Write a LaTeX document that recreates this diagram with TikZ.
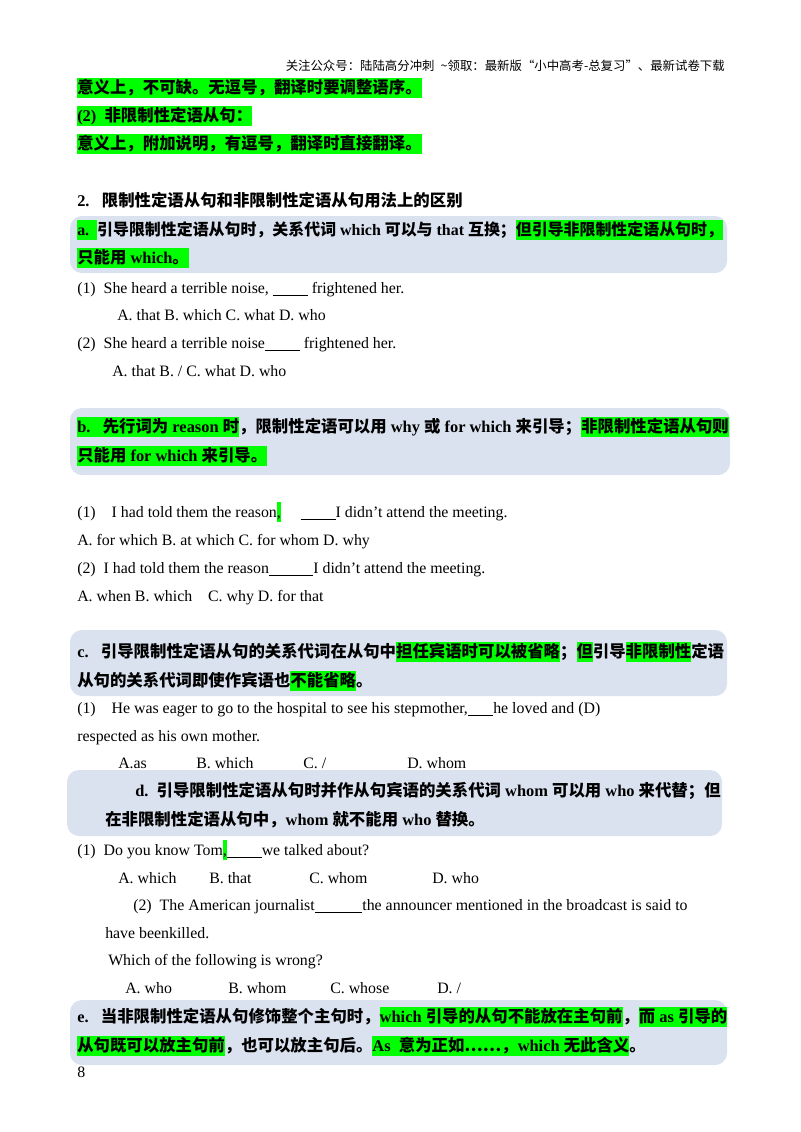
\documentclass[tikz,border=0pt]{standalone}
\usepackage{fontspec}
\setmainfont{Liberation Serif}
\newfontfamily\cjk{Noto Sans CJK SC}
\definecolor{hlg}{RGB}{0,255,0}
\definecolor{boxbg}{RGB}{218,225,239}
\newcommand\Z[1]{{\cjk #1}}
\newcommand\hl[1]{{\setlength\fboxsep{0pt}\colorbox{hlg}{\rule[-4pt]{0pt}{15.5pt}#1}}}
\tikzset{
  txt/.style={anchor=base west,inner sep=0pt,font=\fontsize{11.9}{13}\selectfont},
  btxt/.style={txt,font=\fontsize{12.3}{13}\selectfont\bfseries},
  panel/.style={fill=boxbg,rounded corners=9pt,draw=none}
}
\begin{document}
\begin{tikzpicture}[x=0.75pt,y=-0.75pt]
\useasboundingbox (0,0) rectangle (800,1132);
\fill[white] (0,0) rectangle (800,1132);
\node[anchor=base east,inner sep=0pt,font=\fontsize{9.3}{10}\selectfont\cjk] (hd) at (725,70) {关注公众号：陆陆高分冲刺\enspace \~{}领取：最新版“小中高考-总复习”、最新试卷下载};
\node[btxt] (l1) at (77,93) {\hl{\Z{意义上，不可缺。无逗号，翻译时要调整语序。}}};
\node[btxt] (l2) at (77,121) {\hl{(2)\ \ \Z{非限制性定语从句：}}};
\node[btxt] (l3) at (77,149) {\hl{\Z{意义上，附加说明，有逗号，翻译时直接翻译。}}};
\node[btxt] (s2) at (77,206) {2.\ \ \ \Z{限制性定语从句和非限制性定语从句用法上的区别}};
% box a
\path[panel] (70,216) rectangle (727,273);
\node[btxt,font=\fontsize{11.95}{13}\selectfont\bfseries] (a1) at (77,235) {\hl{a.\ \ }\Z{引导限制性定语从句时，关系代词} which \Z{可以与} that \Z{互换；}\hl{\Z{但引导非限制性定语从句时，}}};
\node[btxt] (a2) at (77,263) {\hl{\Z{只能用} which\Z{。}}};
\node[txt] (q1) at (77,293) {(1)\ \ She heard a terrible noise, \underline{\hspace{2.2em}} frightened her.};
\node[txt] (q1o) at (117,320) {A. that B. which C. what D. who};
\node[txt] (q2) at (77,348) {(2)\ \ She heard a terrible noise\underline{\hspace{2.2em}} frightened her.};
\node[txt] (q2o) at (112,376) {A. that B. / C. what D. who};
% box b
\path[panel] (70,408) rectangle (730,475);
\node[btxt] (b1) at (77,432) {\hl{b.\ \ \ \Z{先行词为} reason \Z{时}}\Z{，限制性定语可以用} why \Z{或} for which \Z{来引导；}\hl{\Z{非限制性定语从句则}}};
\node[btxt] (b2) at (77,461) {\hl{\Z{只能用} for which \Z{来引导。}}};
\node[txt] (r1) at (77,517) {(1)\ \ \ \ I had told them the reason\hl{,}\ \ \ \ \ \underline{\hspace{2.2em}}I didn’t attend the meeting.};
\node[txt] (r1o) at (77,545) {A. for which B. at which C. for whom D. why};
\node[txt] (r2) at (77,573) {(2)\ \ I had told them the reason\underline{\hspace{2.8em}}I didn’t attend the meeting.};
\node[txt] (r2o) at (77,601) {A. when B. which\ \ \ \ C. why D. for that};
% box c
\path[panel] (70,630) rectangle (727,696);
\node[btxt] (c1) at (77,657) {c.\ \ \ \Z{引导限制性定语从句的关系代词在从句中}\hl{\Z{担任宾语时可以被省略}}\Z{；}\hl{\Z{但}}\Z{引导}\hl{\Z{非限制性}}\Z{定语}};
\node[btxt] (c2) at (77,686) {\Z{从句的关系代词即使作宾语也}\hl{\Z{不能省略}}\Z{。}};
\node[txt] (p1) at (77,713) {(1)\ \ \ \ He was eager to go to the hospital to see his stepmother,\underline{\hspace{1.6em}}he loved and (D)};
\node[txt] (p1b) at (77,741) {respected as his own mother.};
\node[txt] (pa) at (118,768) {A.as};
\node[txt] (pb) at (196,768) {B. which};
\node[txt] (pc) at (303,768) {C. /};
\node[txt] (pd) at (407,768) {D. whom};
% box d
\path[panel] (67,770) rectangle (722,836);
\node[btxt] (d1) at (135,796) {d.\ \ \Z{引导限制性定语从句时并作从句宾语的关系代词} whom \Z{可以用} who \Z{来代替；但}};
\node[btxt] (d2) at (105,825) {\Z{在非限制性定语从句中，}whom \Z{就不能用} who \Z{替换。}};
\node[txt] (t1) at (77,855) {(1)\ \ Do you know Tom\hl{,}\underline{\hspace{2.2em}}we talked about?};
\node[txt] (ta) at (118,883) {A. which};
\node[txt] (tb) at (209,883) {B. that};
\node[txt] (tc) at (309,883) {C. whom};
\node[txt] (td) at (432,883) {D. who};
\node[txt] (t2) at (133,910) {(2)\ \ The American journalist\underline{\hspace{3em}}the announcer mentioned in the broadcast is said to};
\node[txt] (t2b) at (105,938) {have beenkilled.};
\node[txt] (t2c) at (108,965) {Which of the following is wrong?};
\node[txt] (ua) at (125,993) {A. who};
\node[txt] (ub) at (228,993) {B. whom};
\node[txt] (uc) at (330,993) {C. whose};
\node[txt] (ud) at (437,993) {D. /};
% box e
\path[panel] (70,1000) rectangle (727,1065);
\node[btxt] (e1) at (77,1022) {e.\ \ \ \Z{当非限制性定语从句修饰整个主句时，}\hl{which \Z{引导的从句不能放在主句前}}\Z{，}\hl{\Z{而} as \Z{引导的}}};
\node[btxt] (e2) at (77,1051) {\hl{\Z{从句既可以放主句前}}\Z{，也可以放主句后。}\hl{As\ \ \Z{意为正如……，}which \Z{无此含义}}\Z{。}};
\node[txt] (pg) at (77,1077) {8};
\end{tikzpicture}
\end{document}
